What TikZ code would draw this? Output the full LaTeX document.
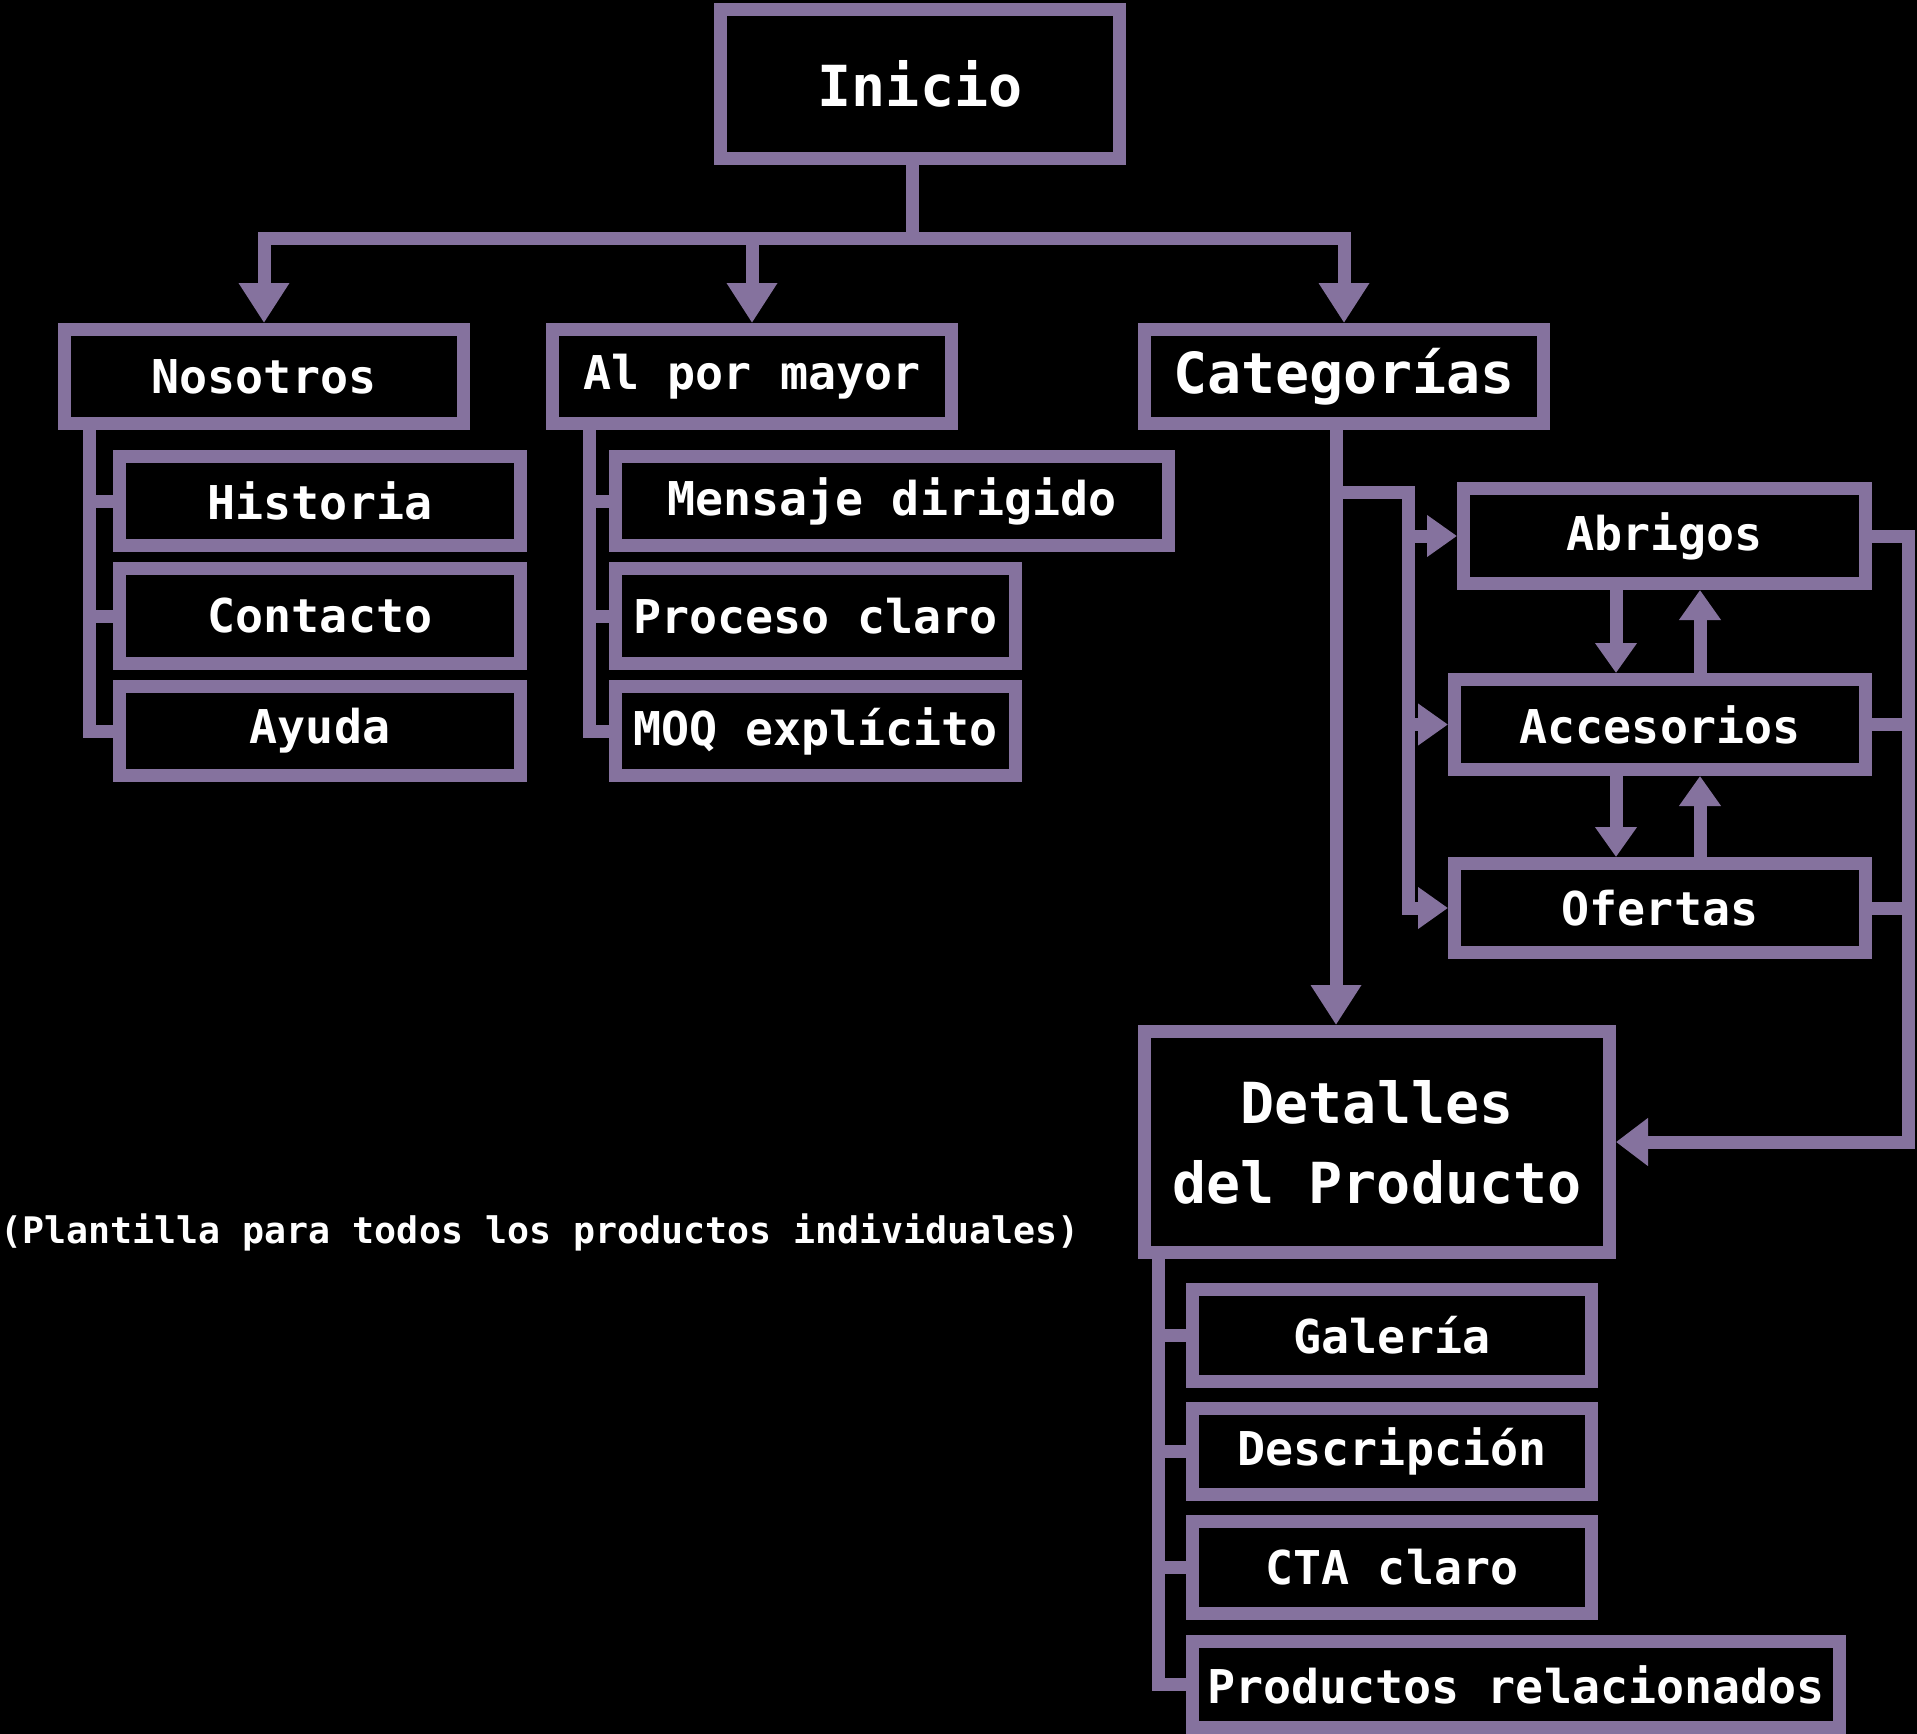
\documentclass[tikz,border=0pt]{standalone}
\usepackage{fontspec}
\usetikzlibrary{arrows.meta}
\newfontfamily\monob{DejaVu Sans Mono}
\definecolor{purp}{RGB}{133,114,158}
\newcommand\lblfont{\monob\bfseries\fontsize{23.3}{28}\selectfont}
\newcommand\lblbigfont{\monob\bfseries\fontsize{28.3}{40}\selectfont}
\newcommand\notefont{\monob\bfseries\fontsize{18.3}{22}\selectfont}
\tikzset{
  box/.style={draw=purp, line width=6.5pt, fill=black, text=white, inner sep=0pt,
    font=\lblfont, align=center, anchor=center},
  bigbox/.style={box, font=\lblbigfont},
  conn/.style={draw=purp, line width=6.5pt},
  arrbig/.style={conn, -{Triangle[width=24pt,length=20pt]}},
  arrmid/.style={conn, -{Triangle[width=23pt,length=16pt]}},
  arrsmall/.style={conn, -{Triangle[width=20pt,length=15pt]}},
}
\begin{document}
\begin{tikzpicture}[x=0.5pt,y=-0.5pt]
\path[use as bounding box, fill=black] (0,0) rectangle (1917,1734);

% boxes
\node[bigbox, minimum width=199.5pt, minimum height=74.5pt] (inicio) at (920,84) {Inicio};

\node[box, minimum width=199.5pt, minimum height=47pt] (nosotros) at (264,376.5) {Nosotros};
\node[box, minimum width=200.5pt, minimum height=44.5pt] (historia) at (320,501) {Historia};
\node[box, minimum width=200.5pt, minimum height=47.5pt] (contacto) at (320,616) {Contacto};
\node[box, minimum width=200.5pt, minimum height=44.5pt] (ayuda) at (320,731) {Ayuda};

\node[box, minimum width=199.5pt, minimum height=47pt] (almayor) at (752,376.5) {Al por mayor};
\node[box, minimum width=276.5pt, minimum height=44.5pt] (mensaje) at (892,501) {Mensaje dirigido};
\node[box, minimum width=200pt, minimum height=47.5pt] (proceso) at (815.5,616) {Proceso claro};
\node[box, minimum width=200pt, minimum height=44.5pt] (moq) at (815.5,731) {MOQ explícito};

\node[bigbox, minimum width=199.5pt, minimum height=47pt] (categorias) at (1344,376.5) {Categorías};
\node[box, minimum width=201pt, minimum height=47.5pt] (abrigos) at (1664.5,536) {Abrigos};
\node[box, minimum width=205.5pt, minimum height=45pt] (accesorios) at (1660,724.5) {Accesorios};
\node[box, minimum width=205.5pt, minimum height=44.5pt] (ofertas) at (1660,908) {Ofertas};

\node[bigbox, minimum width=232.5pt, minimum height=110.5pt] (detalles) at (1377,1142) {Detalles\\del Producto};
\node[box, minimum width=199.5pt, minimum height=46pt] (galeria) at (1392,1335.5) {Galería};
\node[box, minimum width=199.5pt, minimum height=43pt] (descripcion) at (1392,1451.5) {Descripción};
\node[box, minimum width=199.5pt, minimum height=46pt] (cta) at (1392,1567.5) {CTA claro};
\node[box, minimum width=323.5pt, minimum height=43pt] (relacionados) at (1516,1684.5) {Productos relacionados};

\node[anchor=west, inner sep=0pt, text=white, font=\notefont] (nota) at (0,1232)
  {(Plantilla para todos los productos individuales)};

% helper coordinates
\coordinate (bar) at (912,238);
\coordinate (tx1) at (89,0);
\coordinate (tx2) at (589,0);
\coordinate (tx3) at (1158,0);
\coordinate (vx) at (1336,0);
\coordinate (cb) at (1336,492);
\coordinate (cr) at (1408,492);
\coordinate (dx) at (1616,0);
\coordinate (ux) at (1700,0);
\coordinate (rx) at (1908,0);

% Inicio to main sections
\draw[conn] (inicio.south -| bar) -- (bar);
\draw[arrbig] (bar) -| (nosotros.north);
\draw[arrbig] (bar) -| (almayor.north);
\draw[arrbig] (bar) -| (categorias.north);

% Nosotros tree
\draw[conn] (nosotros.south -| tx1) |- (historia.west);
\draw[conn] (nosotros.south -| tx1) |- (contacto.west);
\draw[conn] (nosotros.south -| tx1) |- (ayuda.west);

% Al por mayor tree
\draw[conn] (almayor.south -| tx2) |- (mensaje.west);
\draw[conn] (almayor.south -| tx2) |- (proceso.west);
\draw[conn] (almayor.south -| tx2) |- (moq.west);

% Categorias
\draw[arrbig] (categorias.south -| vx) -- (detalles.north -| vx);
\draw[arrsmall] (cb) -- (cr) |- (abrigos.west);
\draw[arrsmall] (cr) |- (accesorios.west);
\draw[arrsmall] (cr) |- (ofertas.west);

\draw[arrsmall] (abrigos.south -| dx) -- (accesorios.north -| dx);
\draw[arrsmall] (accesorios.north -| ux) -- (abrigos.south -| ux);
\draw[arrsmall] (accesorios.south -| dx) -- (ofertas.north -| dx);
\draw[arrsmall] (ofertas.north -| ux) -- (accesorios.south -| ux);

\draw[arrmid] (abrigos.east) -| (rx |- detalles.east) -- (detalles.east);
\draw[conn] (accesorios.east) -- (accesorios.east -| rx);
\draw[conn] (ofertas.east) -- (ofertas.east -| rx);

% Detalles tree
\draw[conn] (detalles.south -| tx3) |- (galeria.west);
\draw[conn] (detalles.south -| tx3) |- (descripcion.west);
\draw[conn] (detalles.south -| tx3) |- (cta.west);
\draw[conn] (detalles.south -| tx3) |- (relacionados.west);
\end{tikzpicture}
\end{document}
